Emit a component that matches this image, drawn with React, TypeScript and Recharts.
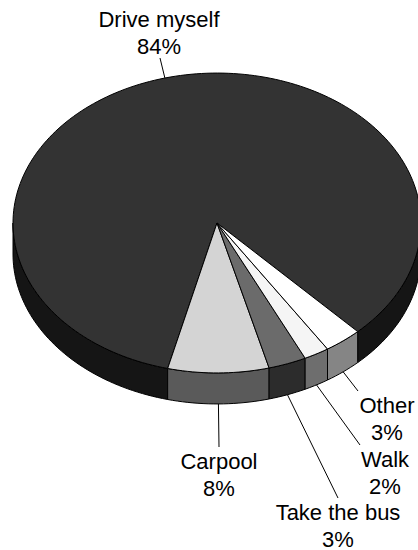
import { PieChart, Pie, Cell } from "recharts";

const CATEGORIES = ["Drive myself", "Carpool", "Take the bus", "Walk", "Other"];
const SHARES = [84, 8, 3, 2, 3];
const SHARE_LABELS = ["84%", "8%", "3%", "2%", "3%"];

const TOP_COLORS = ["#333333", "#d4d4d4", "#6b6b6b", "#f5f5f5", "#ffffff"];
const SIDE_COLORS = ["#151515", "#5a5a5a", "#2c2c2c", "#6e6e6e", "#858585"];

const WIDTH = 418;
const HEIGHT = 550;
const CENTER_X = 217;
const CENTER_Y = 223;
const RADIUS = 204;
const TILT = 0.735; // vertical squash of the disc
const DEPTH = 31; // thickness of the slab
const START_ANGLE = -46.4;

// where each leader line ends and where its text sits (centre x, first baseline)
const LABEL_SPOTS = [
  { lx: 160, ly: 58, tx: 159, ty: 27 },
  { lx: 219, ly: 447, tx: 219, ty: 469 },
  { lx: 338, ly: 498, tx: 338, ty: 520 },
  { lx: 360, ly: 445, tx: 385, ty: 467 },
  { lx: 358, ly: 391, tx: 387, ty: 413 },
];

const FONT = '"Liberation Sans", Arial, Helvetica, sans-serif';

const data = CATEGORIES.map((name, i) => ({ name, value: SHARES[i] }));

function rimPoint(cx: number, cy: number, r: number, deg: number, drop = 0) {
  const a = (deg * Math.PI) / 180;
  return [cx + r * Math.cos(a), cy - r * TILT * Math.sin(a) + drop];
}

function arcPoints(cx: number, cy: number, r: number, from: number, to: number, drop = 0) {
  const steps = Math.max(2, Math.ceil(Math.abs(to - from) / 1.5));
  const pts: number[][] = [];
  for (let s = 0; s <= steps; s++) {
    pts.push(rimPoint(cx, cy, r, from + ((to - from) * s) / steps, drop));
  }
  return pts;
}

// parts of [a0, a1] that face the viewer (lower half of the disc)
function frontSpans(a0: number, a1: number) {
  const spans: [number, number][] = [];
  for (let k = Math.floor(a0 / 360) - 1; k <= Math.ceil(a1 / 360) + 1; k++) {
    const lo = Math.max(a0, 180 + 360 * k);
    const hi = Math.min(a1, 360 + 360 * k);
    if (hi > lo) spans.push([lo, hi]);
  }
  return spans;
}

const toPath = (pts: number[][]) =>
  pts.map((p, i) => `${i ? "L" : "M"}${p[0].toFixed(2)},${p[1].toFixed(2)}`).join("") + "Z";

function SlabSector(props: any) {
  const { cx, cy, outerRadius, startAngle, endAngle, fill, payload } = props;
  const a0 = Math.min(startAngle, endAngle);
  const a1 = Math.max(startAngle, endAngle);
  const idx = CATEGORIES.indexOf(payload?.name ?? props.name);
  const side = SIDE_COLORS[idx] ?? "#000";

  const walls = frontSpans(a0, a1).map(([lo, hi], i) => {
    const upper = arcPoints(cx, cy, outerRadius, lo, hi);
    const lower = arcPoints(cx, cy, outerRadius, hi, lo, DEPTH);
    return (
      <path key={i} d={toPath([...upper, ...lower])} fill={side} stroke="#000" strokeWidth={1} />
    );
  });

  const top = toPath([[cx, cy], ...arcPoints(cx, cy, outerRadius, a0, a1)]);

  return (
    <g>
      {walls}
      <path d={top} fill={fill} stroke="#000" strokeWidth={1} strokeLinejoin="round" />
    </g>
  );
}

function SliceLabel(props: any) {
  const { cx, cy, outerRadius, midAngle, index } = props;
  const spot = LABEL_SPOTS[index];
  if (!spot) return null;
  const front = Math.sin((midAngle * Math.PI) / 180) < 0;
  const [sx, sy] = rimPoint(cx, cy, outerRadius, midAngle, front ? DEPTH : 0);
  return (
    <g>
      <line x1={sx} y1={sy} x2={spot.lx} y2={spot.ly} stroke="#000" strokeWidth={1} />
      <text
        x={spot.tx}
        y={spot.ty}
        textAnchor="middle"
        fontFamily={FONT}
        fontSize={22}
        fill="#000"
      >
        <tspan x={spot.tx}>{CATEGORIES[index]}</tspan>
        <tspan x={spot.tx} dy={26.5}>
          {SHARE_LABELS[index]}
        </tspan>
      </text>
    </g>
  );
}

export default function App() {
  return (
    <div style={{ position: "absolute", left: 0, top: 0, width: WIDTH, height: HEIGHT, background: "#fff" }}>
      <PieChart width={WIDTH} height={HEIGHT} margin={{ top: 0, right: 0, bottom: 0, left: 0 }}>
        <Pie
          data={data}
          dataKey="value"
          nameKey="name"
          cx={CENTER_X}
          cy={CENTER_Y}
          outerRadius={RADIUS}
          startAngle={START_ANGLE}
          endAngle={START_ANGLE + 360}
          stroke="#000"
          shape={SlabSector}
          inactiveShape={SlabSector}
          label={SliceLabel}
          labelLine={false}
          isAnimationActive={false}
        >
          {data.map((d, i) => (
            <Cell key={d.name} fill={TOP_COLORS[i]} />
          ))}
        </Pie>
      </PieChart>
    </div>
  );
}
